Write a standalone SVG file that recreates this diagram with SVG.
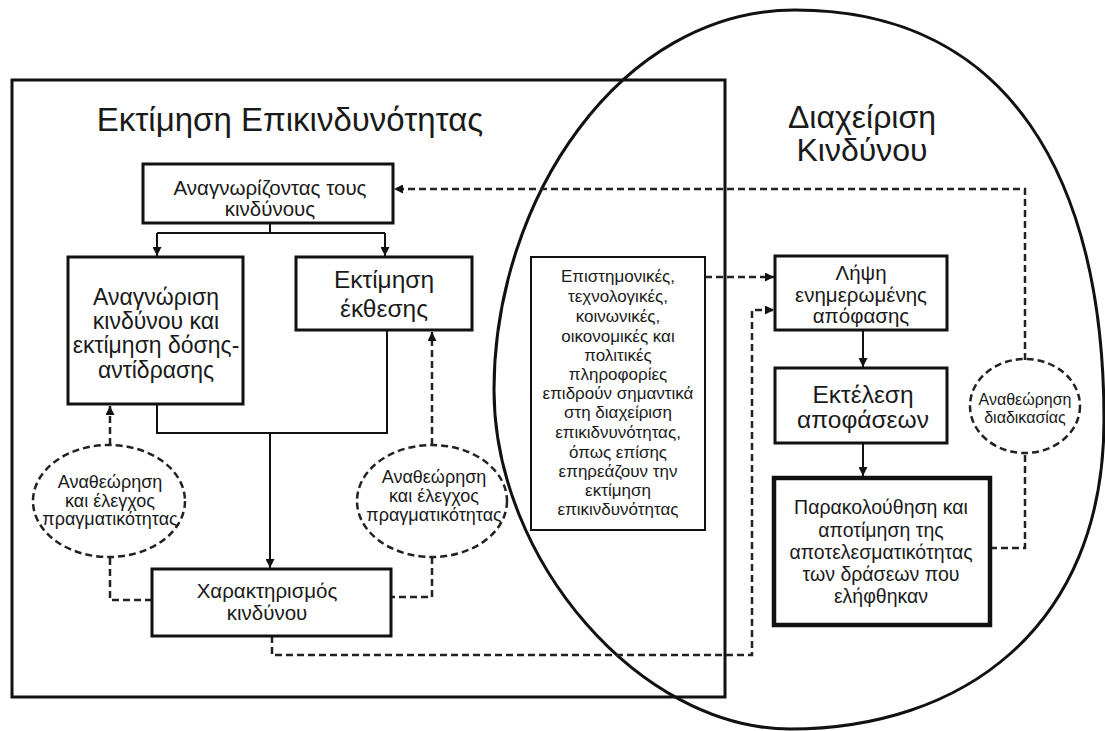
<svg xmlns="http://www.w3.org/2000/svg" width="1105" height="731" viewBox="0 0 1105 731">
  <defs>
    <marker id="arrow" viewBox="0 0 10 10" refX="10" refY="5" markerWidth="9" markerHeight="9" markerUnits="userSpaceOnUse" orient="auto">
      <path d="M0,0 L10,5 L0,10 Z" fill="#111"/>
    </marker>
    <style>
      text { font-family: "Liberation Sans", Arial, sans-serif; fill: #1a1a1a; text-anchor: middle; }
      .box { fill: none; stroke: #111; stroke-width: 3; }
      .thin { stroke-width: 2; }
      .thick { stroke-width: 4.5; }
      .frame { fill: none; stroke: #111; stroke-width: 3; }
      .solid { fill: none; stroke: #111; stroke-width: 2; }
      .dash { fill: none; stroke: #222; stroke-width: 2.5; stroke-dasharray: 7 4; }
      .oval { fill: none; stroke: #222; stroke-width: 2.5; stroke-dasharray: 7 4; }
      .title { font-size: 33px; }
      .t32 { font-size: 32px; }
      .t24 { font-size: 24.5px; }
      .t23 { font-size: 23px; }
      .t20 { font-size: 20.5px; }
      .t19 { font-size: 19.5px; }
      .t18 { font-size: 18px; }
      .t17 { font-size: 17px; }
      .t16 { font-size: 16px; }
    </style>
  </defs>
  <rect width="1105" height="731" fill="#fff"/>

  <!-- outer regions -->
  <g id="assessment-frame">
    <rect class="frame" x="12" y="80" width="713" height="617"/>
    <text class="title" x="290" y="131">Εκτίμηση Επικινδυνότητας</text>
  </g>
  <g id="management-region">
    <path class="frame" stroke-width="2.5" d="M795,10 C1010,10 1104,180 1104,420 C1104,630 960,729 790,729 C640,729 494,560 494,390 C494,200 620,10 795,10 Z"/>
    <text class="t32" x="862" y="128">Διαχείριση</text>
    <text class="t32" x="862" y="161">Κινδύνου</text>
  </g>

  <!-- connectors -->
  <g id="connectors">
    <path class="solid" d="M270,223 V233 M157,233 H385"/>
    <path class="solid" d="M157,233 V256" marker-end="url(#arrow)"/>
    <path class="solid" d="M385,233 V256" marker-end="url(#arrow)"/>
    <path class="solid" d="M157,404 V433 H387 V330"/>
    <path class="solid" d="M270,433 V568" marker-end="url(#arrow)"/>
    <path class="solid" d="M863,330 V367" marker-end="url(#arrow)"/>
    <path class="solid" d="M863,443 V476" marker-end="url(#arrow)"/>

    <path class="dash" d="M110,445 V406" marker-end="url(#arrow)"/>
    <path class="dash" d="M110,558 V600 H152"/>
    <path class="dash" d="M432,445 V332" marker-end="url(#arrow)"/>
    <path class="dash" d="M432,557 V597 H391"/>
    <path class="dash" d="M272,636 V655 H752 V310 H774" marker-end="url(#arrow)"/>
    <path class="dash" d="M705,277 H774" marker-end="url(#arrow)"/>
    <path class="dash" d="M990,548 H1025 V453"/>
    <path class="dash" d="M1025,360 V189 H394" marker-end="url(#arrow)"/>
  </g>

  <g id="identify-hazards">
    <rect class="box" x="143" y="164" width="250" height="59"/>
    <text class="t20" x="270" y="195">Αναγνωρίζοντας τους</text>
    <text class="t20" x="270" y="216">κινδύνους</text>
  </g>
  <g id="dose-response">
    <rect class="box" x="68" y="257" width="175" height="147"/>
    <text class="t23" x="156" y="305">Αναγνώριση</text>
    <text class="t23" x="156" y="329">κινδύνου και</text>
    <text class="t23" x="156" y="353">εκτίμηση δόσης-</text>
    <text class="t23" x="156" y="378">αντίδρασης</text>
  </g>
  <g id="exposure">
    <rect class="box" x="296" y="257" width="176" height="73"/>
    <text class="t24" x="384" y="288">Εκτίμηση</text>
    <text class="t24" x="384" y="317">έκθεσης</text>
  </g>
  <g id="review-left">
    <ellipse class="oval" cx="109" cy="501" rx="76" ry="56"/>
    <text class="t18" x="110" y="488">Αναθεώρηση</text>
    <text class="t18" x="110" y="507">και έλεγχος</text>
    <text class="t18" x="110" y="525">πραγματικότητας</text>
  </g>
  <g id="review-right">
    <ellipse class="oval" cx="432" cy="501" rx="75" ry="56"/>
    <text class="t18" x="434" y="483">Αναθεώρηση</text>
    <text class="t18" x="434" y="502">και έλεγχος</text>
    <text class="t18" x="434" y="521">πραγματικότητας</text>
  </g>
  <g id="characterization">
    <rect class="box" x="152" y="569" width="239" height="67"/>
    <text class="t20" x="267" y="598">Χαρακτηρισμός</text>
    <text class="t20" x="267" y="620">κινδύνου</text>
  </g>
  <g id="context-info">
    <rect class="box thin" x="531" y="257" width="174" height="273"/>
    <text class="t17" x="618" y="282">Επιστημονικές,</text>
    <text class="t17" x="618" y="302">τεχνολογικές,</text>
    <text class="t17" x="618" y="322">κοινωνικές,</text>
    <text class="t17" x="618" y="342">οικονομικές και</text>
    <text class="t17" x="618" y="361">πολιτικές</text>
    <text class="t17" x="618" y="380">πληροφορίες</text>
    <text class="t17" x="618" y="399">επιδρούν σημαντικά</text>
    <text class="t17" x="618" y="418">στη διαχείριση</text>
    <text class="t17" x="618" y="438">επικιδνυνότητας,</text>
    <text class="t17" x="618" y="458">όπως επίσης</text>
    <text class="t17" x="618" y="477">επηρεάζουν την</text>
    <text class="t17" x="618" y="496">εκτίμηση</text>
    <text class="t17" x="618" y="515">επικινδυνότητας</text>
  </g>
  <g id="decision">
    <rect class="box" x="775" y="256" width="172" height="74"/>
    <text class="t20" x="861" y="280">Λήψη</text>
    <text class="t20" x="861" y="302">ενημερωμένης</text>
    <text class="t20" x="861" y="323">απόφασης</text>
  </g>
  <g id="execution">
    <rect class="box" x="775" y="368" width="172" height="75"/>
    <text class="t24" x="863" y="403">Εκτέλεση</text>
    <text class="t24" x="863" y="428">αποφάσεων</text>
  </g>
  <g id="monitoring">
    <rect class="box thick" x="774" y="478" width="216" height="147"/>
    <text class="t19" x="881" y="514">Παρακολούθηση και</text>
    <text class="t19" x="881" y="537">αποτίμηση της</text>
    <text class="t19" x="881" y="559">αποτελεσματικότητας</text>
    <text class="t19" x="881" y="581">των δράσεων που</text>
    <text class="t19" x="881" y="603">ελήφθηκαν</text>
  </g>
  <g id="process-review">
    <ellipse class="oval" cx="1025" cy="406" rx="55" ry="47"/>
    <text class="t16" x="1025" y="405">Αναθεώρηση</text>
    <text class="t16" x="1025" y="423">διαδικασίας</text>
  </g>
</svg>
